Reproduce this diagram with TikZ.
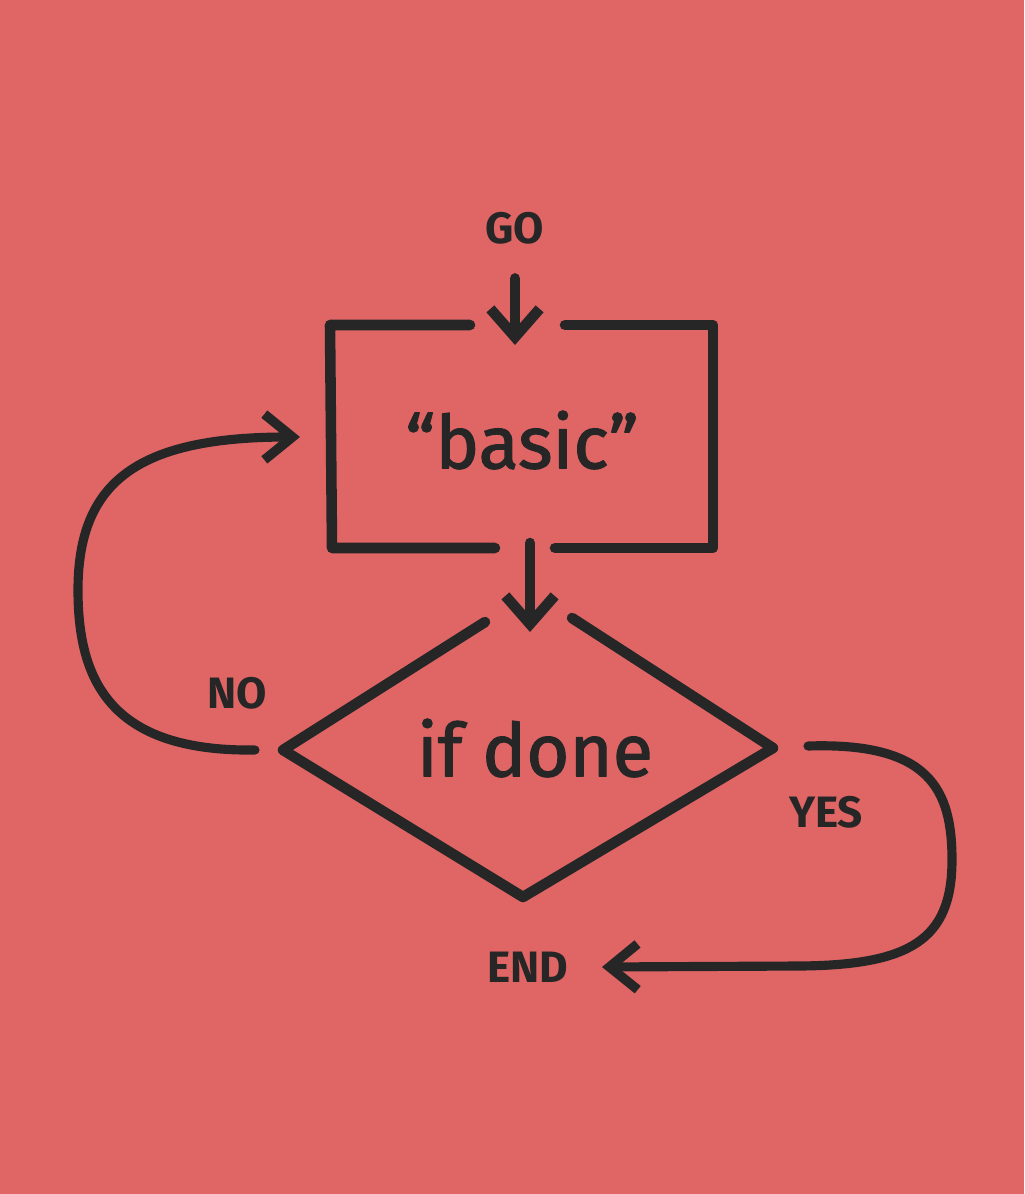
\documentclass[tikz,border=0pt]{standalone}
\usepackage{fontspec}
\setmainfont{Fira Sans}
\newfontfamily\heavyfont[FakeBold=1.6]{Fira Sans}
\usetikzlibrary{arrows.meta}
\definecolor{bgred}{HTML}{E06666}
\definecolor{ink}{HTML}{262626}
\begin{document}
\begin{tikzpicture}[x=0.01cm, y=-0.01cm, ink, line cap=round, line join=round,
    edge/.style={line width=3pt},
    flow/.style={line width=3pt, -{Straight Barb[length=8pt, width=14pt, line width=3pt]}},
    loop/.style={line width=2.6pt, -{Straight Barb[length=8pt, width=13pt, line width=2.7pt]}},
    tag/.style={font=\bfseries\fontsize{12.5}{14}\selectfont},
    big/.style={font=\heavyfont\fontsize{21}{24}\selectfont}]
    \fill [bgred] (0,0) rectangle (1024,1194);
    \node [tag] (go) at (515,228) {GO};
    \node [big] (basic) at (522,440) {“basic”};
    \node [big] (done) at (535,748) {if done};
    \node [tag] (no) at (237,693) {NO};
    \node [tag] (yes) at (826,812) {YES};
    \node [tag] (end) at (528,967) {END};
    \coordinate (boxin) at (515,345);
    \coordinate (boxout) at (530,543);
    \coordinate (dtop) at (530,632);
    \coordinate (dleft) at (255,750);
    \coordinate (dright) at (808,746);
    \coordinate (back) at (300,437);
    \draw [edge] (470,325) -- (330,325) -- (332,548) -- (495,548);
    \draw [edge] (565,325) -- (713,325) -- (713,548) -- (555,548);
    \draw [edge] (485,622) -- (283,750) -- (523,897) -- (773,748) -- (572,618);
    \draw [flow] (go.south) ++(0,22) -- (boxin);
    \draw [flow] (boxout) -- (dtop);
    \draw [loop] (dleft) .. controls (110,752) and (78,680) .. (78,590)
        .. controls (78,480) and (140,437) .. (back);
    \draw [loop] (dright) .. controls (930,742) and (952,790) .. (952,860)
        .. controls (952,940) and (910,965) .. (800,966) -- ([xshift=6pt]end.east);
\end{tikzpicture}
\end{document}
